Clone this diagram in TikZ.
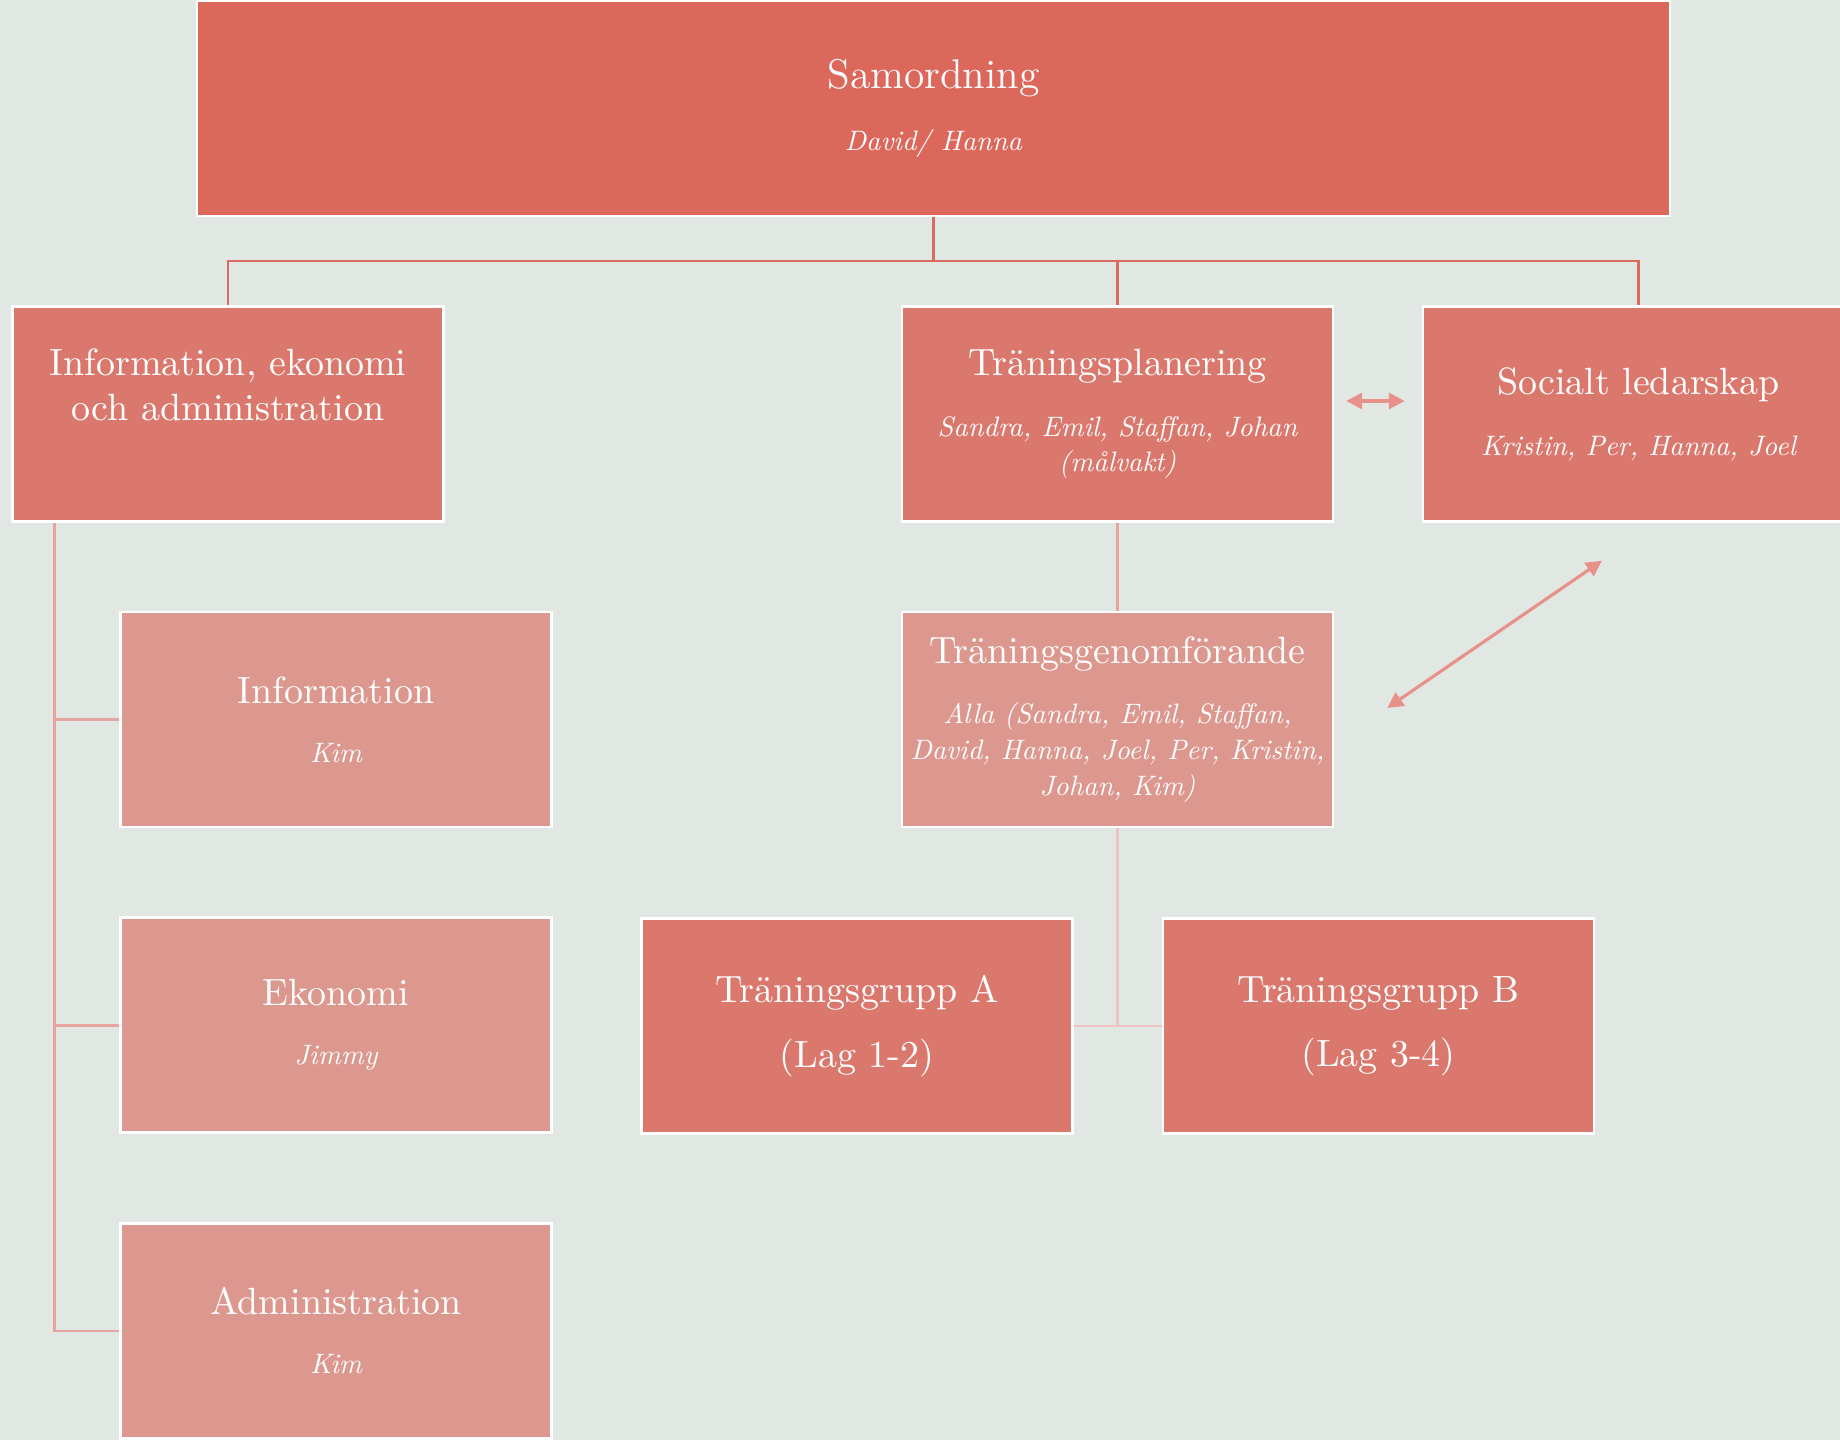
\documentclass[tikz,border=0pt]{standalone}
\usepackage{fontspec}
\usetikzlibrary{arrows.meta}

\newfontface\nameit{lmroman10-italic}[Extension=.otf]

\definecolor{bgcol}{RGB}{225,232,227}
\definecolor{topcol}{RGB}{220,103,91}
\definecolor{midcol}{RGB}{219,120,109}
\definecolor{lightcol}{RGB}{220,151,142}
\definecolor{linetop}{RGB}{219,106,96}
\definecolor{linelight}{RGB}{230,163,159}
\definecolor{linepale}{RGB}{238,194,192}
\definecolor{arrowcol}{RGB}{232,145,138}

\newcommand\boxtitle{\fontsize{10.8}{12.8}\selectfont}
\newcommand\bigtitle{\fontsize{11.8}{13.8}\selectfont}
\newcommand\boxnames{\nameit\fontsize{8}{10.2}\selectfont}

\begin{document}
\begin{tikzpicture}[x=0.1mm, y=-0.1mm, >={Triangle[length=4.5pt,width=4.5pt]},
	every box/.style={draw=white, line width=0.7pt, minimum width=43.1mm, minimum height=21.5mm,
		inner sep=0pt, align=center, text=white, font=\boxtitle},
	box top/.style={every box, fill=topcol, minimum width=147.3mm},
	box mid/.style={every box, fill=midcol},
	box light/.style={every box, fill=lightcol},
	conn top/.style={draw=linetop, line width=0.7pt},
	conn light/.style={draw=linelight, line width=0.8pt},
	conn pale/.style={draw=linepale, line width=0.8pt},
	link/.style={draw=arrowcol, line width=0.9pt, <->}]
	
	\fill [bgcol] (0,0) rectangle (1840,1440);
	\clip (0,0) rectangle (1840,1440);
	
	\node [box top] (top) at (933.5,108.5) {{\bigtitle Samordning}\\[5pt]{\boxnames David/ Hanna}};
	
	\node [box mid] (info) at (228,414) {Information, ekonomi\\och administration\\[4pt]{\boxnames\mbox{}}};
	\node [box mid] (plan) at (1117.5,414) {Träningsplanering\\[4.5pt]{\boxnames Sandra, Emil, Staffan, Johan}\\[-2.6pt]{\boxnames (målvakt)}};
	\node [box mid] (social) at (1638.5,414) {Socialt ledarskap\\[4.5pt]{\boxnames Kristin, Per, Hanna, Joel}};
	
	\foreach \n/\t/\p [count=\y] in {information/Information/Kim, ekonomi/Ekonomi/Jimmy, admin/Administration/Kim}
	\node [box light] (\n) at (336,413.5+305.8*\y) {\t\\[4pt]{\boxnames \p}};
	
	\node [box light] (genom) at (1117.5,719.5) {Träningsgenomförande\\[4.5pt]{\boxnames Alla (Sandra, Emil, Staffan,}\\[-2.6pt]{\boxnames David, Hanna, Joel, Per, Kristin,}\\[-2.6pt]{\boxnames Johan, Kim)}};
	
	\node [box mid] (grpA) at (857,1026) {Träningsgrupp A\\[5.5pt](Lag 1-2)};
	\node [box mid] (grpB) at (1378.5,1026) {Träningsgrupp B\\[5.5pt](Lag 3-4)};
	
	\draw [conn top] (top.south) -- ++(0,44) coordinate (bar);
	\draw [conn top] (info.north) |- (bar) -| (social.north);
	\draw [conn top] (plan.north) -- (plan.north |- bar);
	
	\coordinate (spine) at ([xshift=4.3mm]info.south west);
	\draw [conn light] (spine) |- (admin.west);
	\foreach \b in {information, ekonomi}
	\draw [conn light] (spine |- \b.west) -- (\b.west);
	
	\draw [conn light] (plan) -- (genom);
	\draw [conn pale] (genom.south) -- (genom.south |- grpA.east);
	\draw [conn pale] (grpA) -- (grpB);
	
	\draw [link] ([xshift=1.2mm, yshift=1.3mm]plan.east) -- ([xshift=-1.7mm, yshift=1.3mm]social.west);
	
	\coordinate (genom-tip) at ([xshift=5.3mm, yshift=1.15mm]genom.east);
	\coordinate (social-tip) at ([xshift=-3.65mm, yshift=-3.8mm]social.south);
	\draw [link] (genom-tip) -- (social-tip);
	
\end{tikzpicture}
\end{document}
